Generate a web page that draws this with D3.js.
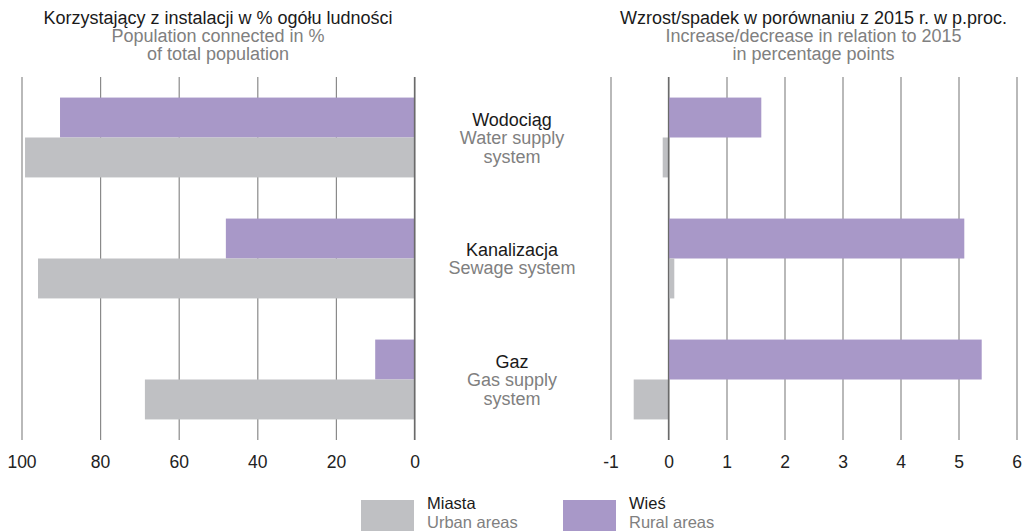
<!DOCTYPE html>
<html lang="pl">
<head>
<meta charset="UTF-8">
<title>Instalacje</title>
<style>
    body { margin: 0; background: #fff; }
    svg { font-family: "Liberation Sans", Arial, sans-serif; }
</style>
</head>
<body>
<svg></svg>
<script src="https://d3js.org/d3.v7.min.js"></script>
<script>
// data
var categories = ["Wodociąg", "Kanalizacja", "Gaz"];
var categoryEn = [["Water supply", "system"], ["Sewage system"], ["Gas supply", "system"]];
var urbanShare = [99.1, 95.8, 68.6];     // Miasta, % of population
var ruralShare = [90.2, 48.0, 10.0];     // Wieś, % of population
var urbanChange = [-0.1, 0.1, -0.6];     // p.proc. vs 2015
var ruralChange = [1.6, 5.1, 5.4];
var leftTicks = [100, 80, 60, 40, 20, 0];
var rightTicks = [-1, 0, 1, 2, 3, 4, 5, 6];

var colors = { urban: "#bfc0c3", rural: "#a898c8" };

var W = 1028, H = 531;
var plotTop = 77, plotBottom = 440;

var svg = d3.select("svg").attr("width", W).attr("height", H);

var y = d3.scaleBand().domain(categories).range([plotTop, plotBottom])
    .paddingInner(0.34).paddingOuter(0.17);
var ySub = d3.scaleBand().domain(["rural", "urban"]).range([0, y.bandwidth()]);

var xL = d3.scaleLinear().domain([100, 0]).range([21.5, 414.5]);
var xR = d3.scaleLinear().domain([-1, 6]).range([610.5, 1016.5]);

function panel(x, ticks, urban, rural, title) {
    var g = svg.append("g");
    var ax = g.append("g")
        .attr("transform", "translate(0," + plotBottom + ")")
        .call(d3.axisBottom(x).tickValues(ticks).tickFormat(function(d) { return String(d); })
            .tickSizeInner(-(plotBottom - plotTop)).tickSizeOuter(0).tickPadding(16));
    ax.select(".domain").remove();
    ax.selectAll(".tick line").attr("stroke", "#8a8a8a").attr("stroke-width", 1.2);
    ax.selectAll(".tick text").attr("fill", "#222").style("font-size", "17.5px")
        .attr("font-family", "Liberation Sans, Arial, sans-serif");

    var rows = categories.map(function(c, i) {
        return { cat: c, urban: urban[i], rural: rural[i] };
    });
    var grp = g.selectAll(".grp").data(rows).join("g")
        .attr("transform", function(d) { return "translate(0," + y(d.cat) + ")"; });
    grp.selectAll("rect").data(function(d) {
        return [{ k: "rural", v: d.rural }, { k: "urban", v: d.urban }];
    }).join("rect")
        .attr("x", function(d) { return Math.min(x(0), x(d.v)); })
        .attr("width", function(d) { return Math.abs(x(d.v) - x(0)); })
        .attr("y", function(d) { return ySub(d.k); })
        .attr("height", ySub.bandwidth())
        .attr("fill", function(d) { return colors[d.k]; });

    // zero line on top of the bars
    g.append("line")
        .attr("x1", x(0)).attr("x2", x(0))
        .attr("y1", plotTop).attr("y2", plotBottom)
        .attr("stroke", "#6a6a6a").attr("stroke-width", 1.3);

    var cx = (x.range()[0] + x.range()[1]) / 2;
    var t = g.append("text").attr("text-anchor", "middle").style("font-size", "18px");
    title.forEach(function(s, i) {
        t.append("tspan").attr("x", cx).attr("y", 23.5 + i * 18)
            .attr("fill", i === 0 ? "#1a1a1a" : "#808080").text(s);
    });
}

panel(xL, leftTicks, urbanShare, ruralShare,
    ["Korzystający z instalacji w % ogółu ludności", "Population connected in %", "of total population"]);
panel(xR, rightTicks, urbanChange, ruralChange,
    ["Wzrost/spadek w porównaniu z 2015 r. w p.proc.", "Increase/decrease in relation to 2015", "in percentage points"]);

// category labels in the middle
categories.forEach(function(c, i) {
    var lines = [c].concat(categoryEn[i]);
    var cy = y(c) + y.bandwidth() / 2;
    var lh = 18.5;
    var t = svg.append("text").attr("text-anchor", "middle").style("font-size", "18px");
    lines.forEach(function(s, j) {
        t.append("tspan").attr("x", 512)
            .attr("y", cy + (j - (lines.length - 1) / 2) * lh + 6.5)
            .attr("fill", j === 0 ? "#1a1a1a" : "#808080").text(s);
    });
});

// legend
var legend = [
    { k: "urban", pl: "Miasta", en: "Urban areas", x: 361 },
    { k: "rural", pl: "Wieś", en: "Rural areas", x: 563 }
];
var lg = svg.selectAll(".lg").data(legend).join("g")
    .attr("transform", function(d) { return "translate(" + d.x + ",500)"; });
lg.append("rect").attr("width", 53).attr("height", 34)
    .attr("fill", function(d) { return colors[d.k]; });
lg.append("text").attr("x", 66).attr("y", 9).style("font-size", "16.5px")
    .attr("fill", "#1a1a1a").text(function(d) { return d.pl; });
lg.append("text").attr("x", 66).attr("y", 28).style("font-size", "16.5px")
    .attr("fill", "#808080").text(function(d) { return d.en; });
</script>
</body>
</html>
